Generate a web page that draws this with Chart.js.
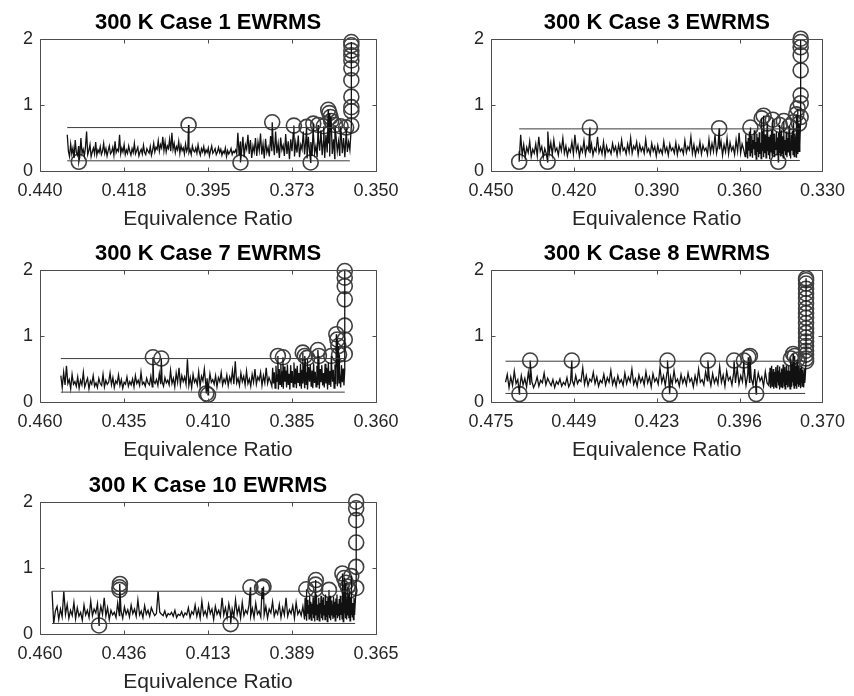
<!DOCTYPE html>
<html>
<head>
<meta charset="utf-8">
<title>300 K EWRMS</title>
<script src="https://cdn.jsdelivr.net/npm/chart.js@4"></script>
<style>
  body { margin: 0; background: #fff; width: 854px; height: 696px; overflow: hidden; position: relative; }
  canvas { position: absolute; }
</style>
</head>
<body>
<canvas id="c1" width="427" height="233" style="left:0;top:0"></canvas>
<canvas id="c2" width="403" height="233" style="left:451px;top:0"></canvas>
<canvas id="c3" width="427" height="233" style="left:0;top:231px"></canvas>
<canvas id="c4" width="403" height="233" style="left:451px;top:231px"></canvas>
<canvas id="c5" width="427" height="233" style="left:0;top:463px"></canvas>
<script>
  // panel titles
  const titles = ['300 K Case 1 EWRMS', '300 K Case 3 EWRMS', '300 K Case 7 EWRMS', '300 K Case 8 EWRMS', '300 K Case 10 EWRMS'];

  // x ticks (axis runs high -> low)
  const xTicks1 = [0.44, 0.4175, 0.395, 0.3725, 0.35];
  const xLabels1 = ['0.440', '0.418', '0.395', '0.373', '0.350'];
  const xTicks2 = [0.45, 0.42, 0.39, 0.36, 0.33];
  const xLabels2 = ['0.450', '0.420', '0.390', '0.360', '0.330'];
  const xTicks3 = [0.46, 0.435, 0.41, 0.385, 0.36];
  const xLabels3 = ['0.460', '0.435', '0.410', '0.385', '0.360'];
  const xTicks4 = [0.475, 0.44875, 0.4225, 0.39625, 0.37];
  const xLabels4 = ['0.475', '0.449', '0.423', '0.396', '0.370'];
  const xTicks5 = [0.46, 0.43625, 0.4125, 0.38875, 0.365];
  const xLabels5 = ['0.460', '0.436', '0.413', '0.389', '0.365'];
  const yTicks = [0, 1, 2];

  // where the trace runs: start, where it gets dense, end
  const span1 = [0.4327, 0.387, 0.3570];
  const span2 = [0.4398, 0.358, 0.3382];
  const span3 = [0.4538, 0.391, 0.3693];
  const span4 = [0.4704, 0.387, 0.3755];
  const span5 = [0.4566, 0.3852, 0.3709];

  // threshold levels
  const upper = [0.66, 0.64, 0.66, 0.62, 0.65];
  const lower = [0.155, 0.16, 0.15, 0.13, 0.16];

  // EWRMS trace
  const trace1a = [
    0.55,0.30,0.22,0.41,0.26,0.35,0.20,0.47,0.28,0.24,0.38,0.21,0.50,0.27,0.33,
    0.23,0.36,0.60,0.25,0.31,0.40,0.22,0.29,0.35,0.26,0.44,0.24,0.32,0.28,0.37,
    0.25,0.30,0.42,0.27,0.34,0.23,0.31,0.38,0.26,0.29,0.36,0.24,0.45,0.28,0.33,
    0.30,0.55,0.26,0.35,0.29,0.40,0.25,0.32,0.27,0.38,0.30,0.24,0.34,0.28,0.42,
    0.26,0.31,0.36,0.23,0.29,0.33,0.26,0.39,0.28,0.25,0.34,0.30,0.27,0.37,0.24,
    0.31,0.42,0.29,0.36,0.33,0.46,0.30,0.40,0.35,0.52,0.31,0.44,0.29,0.38,0.34,
    0.48,0.30,0.58,0.33,0.42,0.28,0.37,0.32,0.45,0.27,0.39,0.31,0.35,0.26,0.41,
    0.30,0.36,0.28,0.33,0.25,0.38,0.31,0.29,0.35,0.27,0.40,0.30,0.24,0.34,0.29,
    0.37,0.26,0.32,0.28,0.35,0.23,0.31,0.38,0.27,0.30,0.34,0.25,0.29,0.36,0.28,
    0.33,0.24,0.30,0.27,0.35,0.22,0.31,0.26,0.29,0.34,0.25,0.30,0.28,0.32,0.26];
  const trace1b = [
    0.58,0.24,0.45,0.30,0.52,0.21,0.40,0.33,0.55,0.26,0.47,0.20,0.38,0.29,0.50,
    0.23,0.44,0.31,0.57,0.25,0.41,0.19,0.49,0.28,0.36,0.22,0.53,0.30,0.46,0.24,
    0.60,0.27,0.42,0.20,0.51,0.32,0.39,0.23,0.56,0.26,0.45,0.18,0.48,0.30,0.58,
    0.22,0.43,0.28,0.54,0.21,0.40,0.33,0.60,0.25,0.47,0.19,0.52,0.29,0.44,0.23,
    0.57,0.27,0.38,0.21,0.50,0.31,0.62,0.24,0.46,0.20,0.55,0.28,0.42,0.22,0.59,
    0.26,0.48,0.19,0.53,0.30,0.45,0.23,0.60,0.27,0.50,0.21,0.56,0.29,0.44,0.32];
  const trace2a = [
    0.30,0.55,0.24,0.40,0.21,0.36,0.28,0.45,0.22,0.33,0.27,0.41,0.23,0.52,0.30,
    0.37,0.21,0.34,0.26,0.60,0.28,0.43,0.25,0.47,0.30,0.35,0.24,0.41,0.31,0.50,
    0.27,0.38,0.23,0.34,0.29,0.44,0.26,0.55,0.30,0.39,0.22,0.36,0.29,0.46,0.25,
    0.37,0.32,0.27,0.41,0.24,0.35,0.30,0.52,0.28,0.36,0.26,0.44,0.23,0.38,0.29,
    0.33,0.26,0.42,0.30,0.37,0.24,0.40,0.28,0.47,0.31,0.35,0.26,0.41,0.29,0.50,
    0.27,0.38,0.33,0.44,0.25,0.40,0.30,0.36,0.27,0.48,0.29,0.34,0.25,0.42,0.30,
    0.37,0.23,0.39,0.28,0.33,0.26,0.45,0.29,0.36,0.24,0.41,0.31,0.35,0.27,0.43,
    0.25,0.38,0.30,0.34,0.26,0.46,0.28,0.37,0.32,0.52,0.27,0.40,0.24,0.36,0.29,
    0.44,0.26,0.39,0.31,0.35,0.25,0.48,0.28,0.42,0.30,0.55,0.27,0.38,0.33,0.45,
    0.24,0.40,0.29,0.50,0.26,0.43,0.31,0.37,0.25,0.47,0.30,0.58,0.27,0.41,0.33];
  const trace2b = [
    0.22,0.56,0.27,0.45,0.19,0.50,0.31,0.60,0.23,0.42,0.28,0.54,0.20,0.47,0.33,
    0.62,0.24,0.44,0.18,0.57,0.29,0.51,0.21,0.59,0.26,0.43,0.19,0.53,0.31,0.61,
    0.22,0.48,0.27,0.56,0.20,0.46,0.30,0.60,0.24,0.52,0.18,0.55,0.28,0.62,0.23,
    0.49,0.26,0.57,0.21,0.44,0.32,0.60,0.25,0.51,0.19,0.58,0.28,0.46,0.22,0.62,
    0.27,0.53,0.20,0.56,0.30,0.47,0.24,0.60,0.21,0.50,0.29,0.58,0.23,0.45,0.19,
    0.55,0.31,0.61,0.25,0.48,0.22,0.57,0.28,0.52,0.20,0.59,0.26,0.46,0.30,0.40];
  const trace3a = [
    0.40,0.22,0.45,0.26,0.55,0.28,0.34,0.20,0.42,0.27,0.31,0.24,0.38,0.21,0.33,
    0.26,0.45,0.23,0.30,0.36,0.20,0.32,0.27,0.40,0.24,0.29,0.22,0.36,0.28,0.25,
    0.42,0.23,0.33,0.27,0.30,0.44,0.26,0.37,0.22,0.32,0.28,0.41,0.25,0.34,0.21,
    0.30,0.27,0.38,0.24,0.31,0.26,0.35,0.23,0.40,0.28,0.33,0.25,0.45,0.27,0.30,
    0.24,0.36,0.29,0.26,0.39,0.23,0.32,0.28,0.34,0.25,0.43,0.27,0.31,0.24,0.37,
    0.29,0.33,0.26,0.48,0.28,0.36,0.23,0.44,0.30,0.52,0.26,0.40,0.31,0.38,0.27,
    0.65,0.25,0.37,0.22,0.42,0.30,0.35,0.26,0.46,0.24,0.39,0.32,0.50,0.28,0.36,
    0.25,0.43,0.30,0.34,0.27,0.40,0.23,0.37,0.31,0.45,0.26,0.35,0.29,0.41,0.25,
    0.38,0.30,0.48,0.27,0.62,0.29,0.36,0.25,0.44,0.31,0.39,0.26,0.47,0.28,0.35,
    0.24,0.42,0.30,0.50,0.27,0.38,0.33,0.45,0.25,0.40,0.29,0.52,0.28,0.37,0.31];
  const trace3b = [
    0.24,0.52,0.28,0.45,0.21,0.55,0.30,0.41,0.19,0.50,0.27,0.58,0.23,0.46,0.20,
    0.54,0.31,0.48,0.22,0.57,0.26,0.43,0.19,0.56,0.29,0.47,0.23,0.60,0.27,0.51,
    0.21,0.55,0.30,0.44,0.24,0.58,0.20,0.49,0.28,0.56,0.22,0.60,0.26,0.45,0.19,
    0.53,0.31,0.57,0.24,0.48,0.21,0.59,0.29,0.46,0.23,0.55,0.27,0.61,0.20,0.50,
    0.30,0.56,0.25,0.44,0.22,0.58,0.28,0.52,0.19,0.60,0.26,0.47,0.23,0.55,0.31,
    0.49,0.21,0.57,0.27,0.53,0.24,0.60,0.29,0.46,0.22,0.56,0.30,0.51,0.25,0.48];
  const trace4a = [
    0.30,0.42,0.22,0.38,0.25,0.47,0.28,0.34,0.20,0.40,0.26,0.36,0.23,0.45,0.27,
    0.31,0.22,0.28,0.38,0.24,0.33,0.29,0.44,0.26,0.36,0.30,0.25,0.34,0.22,0.31,
    0.27,0.35,0.24,0.30,0.26,0.37,0.23,0.29,0.33,0.25,0.40,0.28,0.34,0.31,0.52,
    0.27,0.40,0.25,0.35,0.31,0.45,0.28,0.38,0.24,0.33,0.29,0.42,0.26,0.37,0.30,
    0.48,0.27,0.36,0.24,0.40,0.29,0.34,0.25,0.44,0.28,0.38,0.31,0.50,0.27,0.35,
    0.24,0.41,0.30,0.37,0.26,0.46,0.29,0.38,0.23,0.43,0.31,0.36,0.27,0.52,0.30,
    0.40,0.25,0.45,0.33,0.38,0.27,0.48,0.30,0.35,0.24,0.42,0.29,0.37,0.26,0.44,
    0.31,0.36,0.23,0.40,0.28,0.50,0.30,0.34,0.26,0.46,0.32,0.39,0.25,0.43,0.29,
    0.37,0.27,0.54,0.30,0.41,0.24,0.47,0.33,0.38,0.26,0.45,0.29,0.52,0.27,0.40,
    0.31,0.48,0.25,0.42,0.30,0.36,0.26,0.50,0.28,0.44,0.32,0.38,0.24,0.46,0.29];
  const trace4b = [
    0.25,0.45,0.28,0.52,0.21,0.40,0.31,0.55,0.24,0.42,0.27,0.50,0.20,0.46,0.32,
    0.38,0.23,0.53,0.28,0.44,0.21,0.56,0.30,0.41,0.25,0.48,0.19,0.54,0.29,0.45,
    0.23,0.51,0.27,0.42,0.21,0.57,0.30,0.46,0.24,0.53,0.20,0.44,0.29,0.56,0.26,
    0.48,0.22,0.42,0.31,0.55,0.24,0.47,0.20,0.52,0.28,0.43,0.23,0.58,0.30,0.46,
    0.25,0.51,0.21,0.44,0.29,0.55,0.24,0.48,0.20,0.53,0.27,0.41,0.31,0.56,0.23,
    0.47,0.26,0.52,0.21,0.45,0.30,0.54,0.24,0.49,0.28,0.42,0.22,0.50,0.29,0.35];
  const trace5a = [
    0.65,0.16,0.35,0.42,0.22,0.38,0.26,0.65,0.30,0.45,0.24,0.36,0.28,0.48,0.23,
    0.40,0.27,0.33,0.21,0.44,0.29,0.36,0.25,0.50,0.28,0.38,0.32,0.46,0.26,0.42,
    0.30,0.55,0.27,0.40,0.22,0.36,0.29,0.33,0.25,0.47,0.28,0.35,0.24,0.41,0.30,
    0.37,0.26,0.44,0.31,0.38,0.27,0.52,0.29,0.35,0.25,0.43,0.30,0.36,0.27,0.40,
    0.33,0.28,0.31,0.65,0.33,0.30,0.28,0.35,0.26,0.31,0.29,0.33,0.27,0.36,0.25,
    0.30,0.28,0.34,0.26,0.32,0.29,0.40,0.25,0.34,0.30,0.44,0.27,0.38,0.24,0.50,
    0.29,0.35,0.26,0.45,0.31,0.38,0.22,0.42,0.30,0.36,0.27,0.55,0.29,0.40,0.25,
    0.46,0.32,0.38,0.26,0.52,0.30,0.41,0.24,0.48,0.28,0.36,0.31,0.44,0.27,0.39,
    0.25,0.47,0.30,0.35,0.26,0.53,0.29,0.42,0.24,0.38,0.32,0.49,0.27,0.36,0.30,
    0.45,0.25,0.40,0.29,0.55,0.27,0.37,0.31,0.43,0.24,0.48,0.30,0.36,0.28,0.42];
  const trace5b = [
    0.22,0.55,0.27,0.47,0.20,0.52,0.31,0.44,0.23,0.58,0.26,0.49,0.21,0.46,0.30,
    0.56,0.24,0.51,0.19,0.48,0.28,0.60,0.22,0.45,0.26,0.55,0.20,0.47,0.31,0.58,
    0.24,0.52,0.21,0.56,0.28,0.44,0.22,0.60,0.27,0.50,0.19,0.55,0.30,0.47,0.24,
    0.58,0.21,0.51,0.28,0.45,0.23,0.57,0.26,0.49,0.20,0.54,0.30,0.60,0.24,0.46,
    0.27,0.53,0.21,0.58,0.29,0.48,0.23,0.55,0.19,0.50,0.31,0.57,0.25,0.46,0.22,
    0.54,0.28,0.60,0.24,0.49,0.20,0.56,0.30,0.52,0.26,0.47,0.22,0.55,0.29,0.45];

  // flagged points (circles)
  const outX1 = [0.4296,0.4002,0.3863,0.3778,0.3720,0.3686,0.3675,0.3668,0.3655,0.3640,0.3628,0.3625,0.3622,0.3620,0.3610,0.3595,0.3580,0.3566,0.3566,0.3566,0.3566,0.3566,0.3566,0.3566,0.3566,0.3566,0.3566,0.3566];
  const outY1 = [0.14,0.70,0.13,0.74,0.69,0.67,0.13,0.72,0.70,0.68,0.93,0.88,0.82,0.76,0.70,0.68,0.66,0.69,0.91,0.97,1.13,1.38,1.56,1.68,1.76,1.83,1.91,1.96];
  const outX2 = [0.4398,0.4295,0.4142,0.3674,0.3561,0.3520,0.3513,0.3500,0.3480,0.3460,0.3455,0.3440,0.3420,0.3405,0.3395,0.3390,0.3385,0.3379,0.3379,0.3379,0.3379,0.3379,0.3379,0.3379,0.3379];
  const outY2 = [0.14,0.14,0.66,0.65,0.66,0.80,0.84,0.72,0.78,0.14,0.70,0.76,0.68,0.74,0.86,0.95,0.72,0.82,1.03,1.15,1.53,1.76,1.88,1.96,2.01];
  const outX3 = [0.4264,0.4239,0.4105,0.4100,0.3892,0.3877,0.3818,0.3812,0.3805,0.3773,0.3770,0.3733,0.3718,0.3715,0.3712,0.3710,0.3693,0.3693,0.3693,0.3693,0.3693,0.3693,0.3693];
  const outY3 = [0.68,0.66,0.13,0.11,0.70,0.68,0.75,0.70,0.67,0.79,0.70,0.70,1.03,0.95,0.85,0.72,0.73,0.95,1.16,1.56,1.76,1.89,1.99];
  const outX4 = [0.4660,0.4626,0.4494,0.4191,0.4184,0.4063,0.3980,0.3949,0.3935,0.3930,0.3910,0.3800,0.3793,0.3788,0.3780,0.3752,0.3752,0.3752,0.3752,0.3752,0.3752,0.3752,0.3752,0.3752,0.3752,0.3752,0.3752,0.3752,0.3752,0.3752,0.3752,0.3752,0.3752,0.3752,0.3752];
  const outY4 = [0.12,0.63,0.63,0.63,0.12,0.63,0.63,0.63,0.68,0.70,0.12,0.66,0.73,0.70,0.64,0.62,0.66,0.72,0.78,0.85,0.92,0.98,1.05,1.12,1.20,1.28,1.35,1.42,1.50,1.58,1.65,1.72,1.80,1.85,1.88];
  const outX5 = [0.4433,0.4375,0.4375,0.4374,0.4061,0.4005,0.3972,0.3968,0.3847,0.3822,0.3821,0.3820,0.3783,0.3745,0.3740,0.3735,0.3730,0.3725,0.3720,0.3706,0.3706,0.3706,0.3706,0.3706,0.3706];
  const outY5 = [0.13,0.67,0.71,0.76,0.15,0.71,0.70,0.72,0.68,0.68,0.75,0.82,0.67,0.92,0.85,0.78,0.72,0.66,0.88,0.70,1.02,1.39,1.73,1.91,2.01];

  const textColor = '#262626';
  Chart.defaults.font.family = "'Liberation Sans', Arial, sans-serif";

  // MATLAB style box with inward ticks
  const boxPlugin = {
    id: 'matlabBox',
    afterDraw(chart) {
      const { ctx, chartArea: a, scales: { x, y } } = chart;
      const l = Math.round(a.left) + 0.5, r = Math.round(a.right) + 0.5;
      const t = Math.round(a.top) + 0.5, b = Math.round(a.bottom) + 0.5;
      ctx.save();
      ctx.strokeStyle = '#4d4d4d';
      ctx.lineWidth = 1;
      ctx.beginPath();
      ctx.rect(l, t, r - l, b - t);
      x.ticks.forEach(tk => {
        const px = Math.round(x.getPixelForValue(tk.value)) + 0.5;
        ctx.moveTo(px, b); ctx.lineTo(px, b - 4);
        ctx.moveTo(px, t); ctx.lineTo(px, t + 4);
      });
      y.ticks.forEach(tk => {
        const py = Math.round(y.getPixelForValue(tk.value)) + 0.5;
        ctx.moveTo(l, py); ctx.lineTo(l + 4, py);
        ctx.moveTo(r, py); ctx.lineTo(r - 4, py);
      });
      ctx.stroke();
      ctx.restore();
    }
  };

  function buildTrace(span, partA, partB, ox, oy) {
    const pts = [];
    partA.forEach((v, i) => pts.push({ x: span[0] + (span[1] - span[0]) * i / partA.length, y: v }));
    partB.forEach((v, i) => pts.push({ x: span[1] + (span[2] - span[1]) * i / (partB.length - 1), y: v }));
    ox.forEach((v, i) => pts.push({ x: v, y: oy[i] }));
    return pts.sort((p, q) => q.x - p.x);
  }

  function makePanel(id, k, ticks, labels, span, partA, partB, ox, oy, padRight) {
    const level = v => [{ x: span[0], y: v }, { x: span[2], y: v }];
    new Chart(document.getElementById(id), {
      type: 'line',
      data: {
        datasets: [
          { data: level(upper[k]), borderColor: '#3c3c3c', borderWidth: 1, pointRadius: 0 },
          { data: level(lower[k]), borderColor: '#3c3c3c', borderWidth: 1, pointRadius: 0 },
          { data: buildTrace(span, partA, partB, ox, oy), borderColor: '#111', borderWidth: 1.3, pointRadius: 0 },
          {
            data: ox.map((v, i) => ({ x: v, y: oy[i] })),
            showLine: false, clip: false,
            pointRadius: 7.5, pointBorderWidth: 1.6,
            pointBorderColor: '#404040', pointBackgroundColor: 'rgba(0,0,0,0)'
          }
        ]
      },
      options: {
        responsive: false,
        animation: false,
        layout: { padding: { left: 0, right: padRight, top: 0, bottom: 0 } },
        plugins: {
          legend: { display: false },
          tooltip: { enabled: false },
          title: {
            display: true, text: titles[k], fullSize: false, color: '#000',
            font: { size: 22, weight: 'bold' }, padding: { top: 10, bottom: 3 }
          }
        },
        scales: {
          x: {
            type: 'linear', reverse: true,
            min: ticks[ticks.length - 1], max: ticks[0],
            afterBuildTicks: ax => { ax.ticks = ticks.map(v => ({ value: v })); },
            afterFit: ax => { ax.height = 62; },
            ticks: {
              callback: (v, i) => labels[i], autoSkip: false, maxRotation: 0,
              color: textColor, font: { size: 18 }, padding: 9
            },
            grid: { display: false, drawTicks: false },
            border: { display: false },
            title: {
              display: true, text: 'Equivalence Ratio', color: textColor,
              font: { size: 21 }, padding: { top: 0, bottom: 1 }
            }
          },
          y: {
            min: 0, max: 2,
            afterBuildTicks: ax => { ax.ticks = yTicks.map(v => ({ value: v })); },
            afterFit: ax => { ax.width = 40; },
            ticks: { color: textColor, font: { size: 18 }, padding: 7 },
            grid: { display: false, drawTicks: false },
            border: { display: false }
          }
        }
      },
      plugins: [boxPlugin]
    });
  }

  makePanel('c1', 0, xTicks1, xLabels1, span1, trace1a, trace1b, outX1, outY1, 51);
  makePanel('c2', 1, xTicks2, xLabels2, span2, trace2a, trace2b, outX2, outY2, 27);
  makePanel('c3', 2, xTicks3, xLabels3, span3, trace3a, trace3b, outX3, outY3, 51);
  makePanel('c4', 3, xTicks4, xLabels4, span4, trace4a, trace4b, outX4, outY4, 27);
  makePanel('c5', 4, xTicks5, xLabels5, span5, trace5a, trace5b, outX5, outY5, 51);
</script>
</body>
</html>
